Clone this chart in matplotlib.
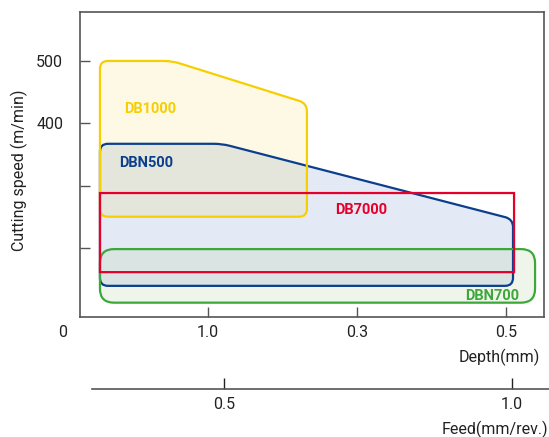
import matplotlib
matplotlib.use("Agg")
import matplotlib.pyplot as plt
from matplotlib.path import Path
from matplotlib.patches import PathPatch
from matplotlib.transforms import IdentityTransform, offset_copy

plt.rcParams['font.family'] = ['Roboto', 'DejaVu Sans']

# axis ticks
depth_pos = [0, 1, 2, 3]
depth_labels = ['0', '1.0', '0.3', '0.5']
speed_ticks = [200, 300, 400, 500]
speed_labels = ['', '', '400', '500']
feed_pos = [0.5, 1.0]
feed_labels = ['0.5', '1.0']

# tool ranges (depth position, cutting speed)
db1000_x = [0.275, 0.275, 0.758, 1.664, 1.664]
db1000_y = [250, 500, 500, 432, 250]
dbn500_x = [0.275, 0.275, 1.094, 3.047, 3.047]
dbn500_y = [139, 367, 367, 246, 139]
db7000_x = [0.275, 0.275, 3.054, 3.054]
db7000_y = [161, 288, 288, 161]
dbn700_x = [0.275, 0.275, 3.195, 3.195]
dbn700_y = [112, 198, 198, 112]

YELLOW = '#F7CF00'
BLUE = '#0B3F8E'
RED = '#E4002B'
GREEN = '#3DA83A'
AXC = '#555555'
TXT = '#222222'
FS = 11.5

fig = plt.figure(figsize=(5.49, 4.37), dpi=100)
ax = fig.add_axes([0.1457, 0.2746, 0.8452, 0.698])
ax.set_xlim(0.141, 3.255)
ax.set_ylim(89, 578.6)


def rounded(ax, xs, ys, r):
    # round the corners in pixel space so they stay circular
    pts = ax.transData.transform(list(zip(xs, ys)))
    n = len(pts)
    verts, codes = [], []
    for i in range(n):
        p0, p1, p2 = pts[i - 1], pts[i], pts[(i + 1) % n]
        d1 = p0 - p1
        d2 = p2 - p1
        l1 = (d1 ** 2).sum() ** 0.5
        l2 = (d2 ** 2).sum() ** 0.5
        rr = min(r, l1 / 2, l2 / 2)
        a = p1 + d1 / l1 * rr
        b = p1 + d2 / l2 * rr
        verts += [a, p1, b]
        codes += [Path.MOVETO if i == 0 else Path.LINETO, Path.CURVE3, Path.CURVE3]
    verts.append(verts[0])
    codes.append(Path.CLOSEPOLY)
    return Path(verts, codes)


shapes = [
    (dbn500_x, dbn500_y, 8, '#E3EAF5', 1.0, BLUE),
    (db1000_x, db1000_y, 8, '#F5C800', 0.1, YELLOW),
    (dbn700_x, dbn700_y, 14, '#ACCD95', 0.18, GREEN),
]
for xs, ys, r, fc, al, ec in shapes:
    ax.add_patch(PathPatch(rounded(ax, xs, ys, r), transform=IdentityTransform(),
                           facecolor=fc, alpha=al, edgecolor='none', zorder=1))
for xs, ys, r, fc, al, ec in shapes:
    ax.add_patch(PathPatch(rounded(ax, xs, ys, r), transform=IdentityTransform(),
                           facecolor='none', edgecolor=ec, lw=1.6, zorder=2))
ax.add_patch(PathPatch(rounded(ax, db7000_x, db7000_y, 0), transform=IdentityTransform(),
                       facecolor='none', edgecolor=RED, lw=1.6, zorder=3))

lab = dict(fontsize=10.5, fontweight='bold')
ax.text(0.611, 423, 'DB1000', color=YELLOW, ha='center', va='center', **lab)
ax.text(0.587, 336, 'DBN500', color=BLUE, ha='center', va='center', **lab)
ax.text(2.027, 261, 'DB7000', color=RED, ha='center', va='center', **lab)
ax.text(3.09, 123, 'DBN700', color=GREEN, ha='right', va='center', **lab)

ax.set_xticks(depth_pos[1:])
ax.set_xticklabels(depth_labels[1:])
zero_tr = offset_copy(ax.get_xaxis_transform(), fig=fig, x=4, units='dots')
ax.text(depth_pos[0], -0.027, depth_labels[0], transform=zero_tr,
        ha='center', va='top', fontsize=FS, color=TXT, clip_on=False)
ax.set_yticks(speed_ticks)
ax.set_yticklabels(speed_labels)
ax.tick_params(axis='both', direction='in', length=7, width=1, color=AXC,
               labelsize=FS, labelcolor=TXT)
ax.tick_params(axis='y', pad=12)
ax.tick_params(axis='x', pad=6)
for s in ax.spines.values():
    s.set_color(AXC)
    s.set_linewidth(1.2)
ax.set_ylabel('Cutting speed (m/min)', fontsize=FS, color=TXT)
ax.yaxis.set_label_coords(-0.113, 0.482)
fig.text(0.984, 0.183, 'Depth(mm)', ha='right', va='center', fontsize=FS, color=TXT)

# feed axis
ax2 = fig.add_axes([0.1676, 0.1098, 0.8324, 0.001])
ax2.set_xlim(0.271, 1.064)
ax2.set_ylim(0, 1)
for k in ['left', 'right', 'top']:
    ax2.spines[k].set_visible(False)
ax2.spines['bottom'].set_color(AXC)
ax2.spines['bottom'].set_linewidth(1.2)
ax2.set_yticks([])
ax2.set_xticks(feed_pos)
ax2.set_xticklabels(feed_labels)
ax2.tick_params(axis='x', direction='in', length=8, width=1, color=TXT,
                labelsize=FS, labelcolor=TXT, pad=6)
fig.text(0.998, 0.018, 'Feed(mm/rev.)', ha='right', va='center', fontsize=FS, color=TXT)

fig.savefig('out.png', dpi=100)
